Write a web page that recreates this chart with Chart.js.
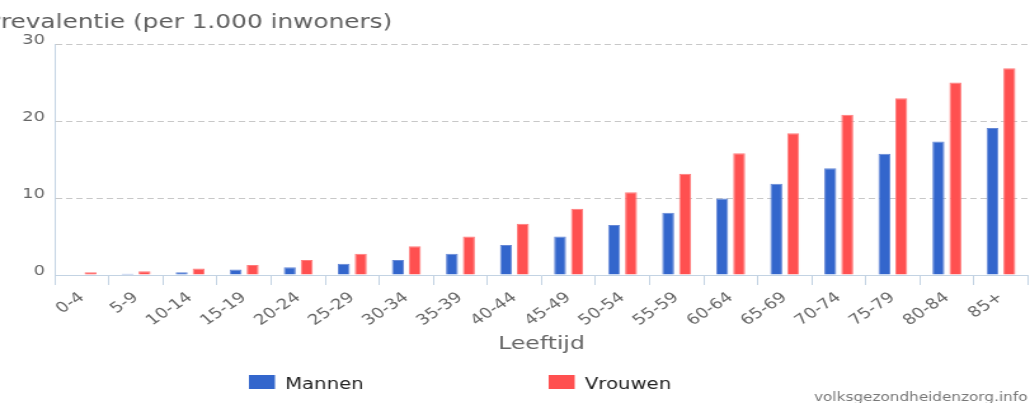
<!DOCTYPE html>
<html lang="nl">
  <head>
    <meta charset="UTF-8" />
    <title>Prevalentie naar leeftijd</title>
    <script src="https://cdn.jsdelivr.net/npm/chart.js@4.4.1/dist/chart.umd.min.js"></script>
    <style>
      body {
        margin: 0;
        background: #fff;
        overflow: hidden;
      }
      #chart {
        display: block;
      }
    </style>
  </head>
  <body>
    <!-- canvas is drawn narrower and stretched out to the page width -->
    <canvas id="chart" width="811" height="403" style="width: 1030px; height: 403px"></canvas>
    <script>
      var leeftijden = ["0-4", "5-9", "10-14", "15-19", "20-24", "25-29", "30-34", "35-39", "40-44",
        "45-49", "50-54", "55-59", "60-64", "65-69", "70-74", "75-79", "80-84", "85+"];
      var mannen = [0.05, 0.15, 0.35, 0.7, 1.0, 1.45, 1.95, 2.75, 3.9, 5.0, 6.5, 8.1, 9.95, 11.85, 13.85, 15.75, 17.35, 19.1];
      var vrouwen = [0.35, 0.5, 0.85, 1.3, 1.95, 2.75, 3.75, 5.0, 6.65, 8.6, 10.75, 13.15, 15.8, 18.4, 20.8, 22.95, 25.0, 26.85];
      var yTicks = [0, 10, 20, 30];

      var font = "DejaVu Sans";
      var blauw = "#3366cc";
      var rood = "#ff5050";
      var asKleur = "#c3d3e3";

      // title at the top, legend and source line at the bottom
      var extraTekst = {
        id: "extraTekst",
        afterDraw: function (chart) {
          var ctx = chart.ctx;
          ctx.save();
          ctx.fillStyle = "#5f5f5f";
          ctx.font = "19.5px '" + font + "'";
          ctx.textBaseline = "alphabetic";
          var pW = ctx.measureText("P").width;
          ctx.fillText("Prevalentie (per 1.000 inwoners)", 1 - pW, 28);

          var items = [
            { x: 196, tekst: chart.data.datasets[0].label, kleur: blauw },
            { x: 432, tekst: chart.data.datasets[1].label, kleur: rood },
          ];
          ctx.font = "15.5px '" + font + "'";
          items.forEach(function (it) {
            ctx.fillStyle = it.kleur;
            ctx.fillRect(it.x, 375, 20.5, 14);
            ctx.fillStyle = "#222";
            ctx.fillText(it.tekst, it.x + 28.5, 389);
          });

          ctx.fillStyle = "#777";
          ctx.font = "12px '" + font + "'";
          ctx.textAlign = "right";
          ctx.fillText("volksgezondheidenzorg.info", 809, 401);
          ctx.restore();
        },
      };

      var chart = new Chart(document.getElementById("chart"), {
        type: "bar",
        data: {
          labels: leeftijden,
          datasets: [
            {
              label: "Mannen",
              data: mannen,
              backgroundColor: blauw,
              borderColor: "#6688d6",
              borderWidth: 1,
              categoryPercentage: 0.627,
              barPercentage: 0.708,
            },
            {
              label: "Vrouwen",
              data: vrouwen,
              backgroundColor: rood,
              borderColor: "#ff7a7a",
              borderWidth: 1,
              categoryPercentage: 0.627,
              barPercentage: 0.708,
            },
          ],
        },
        options: {
          responsive: false,
          animation: false,
          devicePixelRatio: 1,
          layout: { padding: { top: 44, left: 0, right: 1.6, bottom: 44.2 } },
          plugins: {
            legend: { display: false },
            tooltip: { enabled: false },
          },
          scales: {
            x: {
              offset: true,
              afterFit: function (s) {
                s.height = 83.8;
              },
              grid: {
                offset: true,
                drawOnChartArea: false,
                drawTicks: true,
                tickLength: 10,
                color: asKleur,
              },
              border: { color: asKleur },
              ticks: {
                minRotation: 40,
                maxRotation: 40,
                autoSkip: false,
                padding: 4,
                color: "#666",
                font: { family: font, size: 14.5 },
              },
              title: {
                display: true,
                text: "Leeftijd",
                color: "#666",
                font: { family: font, size: 18.5 },
                padding: { top: 4, bottom: 4 },
              },
            },
            y: {
              min: 0,
              max: 30,
              afterFit: function (s) {
                s.width = 43.3;
              },
              afterBuildTicks: function (s) {
                s.ticks = yTicks.map(function (v) {
                  return { value: v };
                });
              },
              grid: {
                drawTicks: false,
                color: "#c8c8c8",
              },
              border: { color: asKleur, dash: [5, 3] },
              ticks: {
                padding: 8,
                labelOffset: -4,
                color: "#666",
                font: { family: font, size: 14 },
              },
            },
          },
        },
        plugins: [extraTekst],
      });
    </script>
  </body>
</html>
